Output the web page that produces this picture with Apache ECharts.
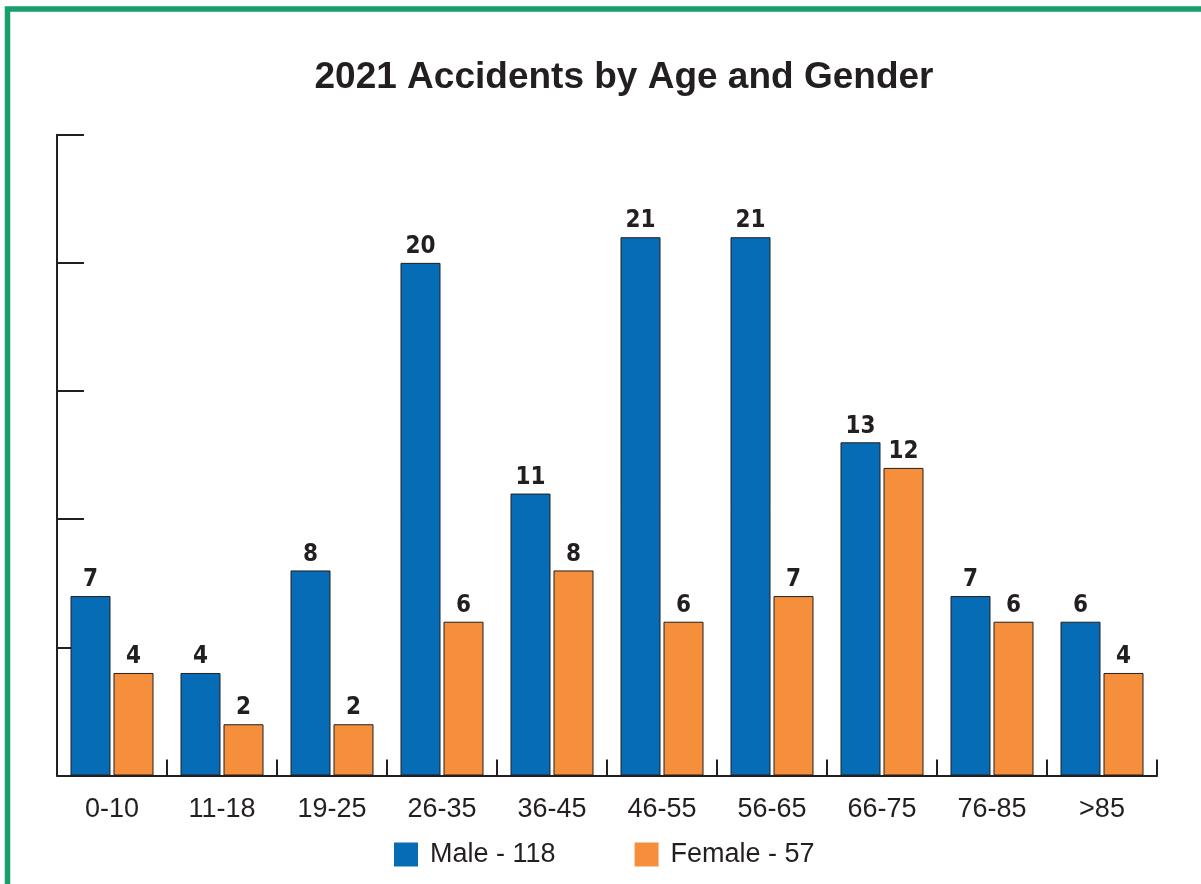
<!DOCTYPE html>
<html>
<head>
<meta charset="utf-8">
<script src="https://cdn.jsdelivr.net/npm/echarts@6/dist/echarts.min.js"></script>
<style>
html,body{margin:0;padding:0;background:#fff;}
#chart{width:1201px;height:884px;}
</style>
</head>
<body>
<div id="chart"></div>
<script>
const categories = ['0-10','11-18','19-25','26-35','36-45','46-55','56-65','66-75','76-85','>85'];
const maleValues = [7,4,8,20,11,21,21,13,7,6];
const femaleValues = [4,2,2,6,8,6,7,12,6,4];
const seriesNames = ['Male - 118','Female - 57'];
const titleText = '2021 Accidents by Age and Gender';

const ink = '#231f20';
const chart = echarts.init(document.getElementById('chart'), null, {renderer:'canvas'});
const labelFont = "'Liberation Sans Narrow','DejaVu Sans Condensed','Liberation Sans',Arial,sans-serif";
const option = {
  animation:false,
  backgroundColor:'#fff',
  title:{
    text:titleText,
    left:619, top:54, textAlign:'center',
    textStyle:{fontFamily:"'Liberation Sans',Arial,sans-serif",fontWeight:'bold',fontSize:37,color:ink}
  },
  legend:{
    left:394, top:841, padding:0,
    itemWidth:24, itemHeight:24, itemGap:79,
    icon:'rect',
    textStyle:{fontFamily:"'Liberation Sans',Arial,sans-serif",fontSize:27,color:ink,padding:[0,0,0,7]},
    itemStyle:{borderWidth:0}
  },
  graphic:[{
    type:'rect', silent:true, z:100,
    shape:{x:7.5,y:9,width:1400,height:1200},
    style:{fill:'none',stroke:'#189e6b',lineWidth:5.5}
  }],
  grid:{left:57,right:44,top:134.7,bottom:108.5,containLabel:false},
  xAxis:{
    type:'category', data:categories,
    axisLine:{lineStyle:{color:ink,width:2}},
    axisTick:{show:true,inside:true,length:16,lineStyle:{color:ink,width:2}},
    axisLabel:{margin:21,fontFamily:"'Liberation Sans',Arial,sans-serif",fontSize:27,color:ink}
  },
  yAxis:{
    type:'value', min:0, max:25, interval:5,
    axisLine:{show:true,lineStyle:{color:ink,width:2}},
    axisTick:{show:true,inside:true,length:27,lineStyle:{color:ink,width:2}},
    axisLabel:{show:false},
    splitLine:{show:false}
  },
  series:[
    {name:seriesNames[0],type:'bar',data:maleValues,barWidth:40,barGap:'7.5%',
     itemStyle:{color:'#066cb6',borderColor:ink,borderWidth:1},
     label:{show:true,position:'top',distance:4,fontFamily:labelFont,fontWeight:'bold',fontSize:24,color:ink}},
    {name:seriesNames[1],type:'bar',data:femaleValues,barWidth:40,
     itemStyle:{color:'#f58f3b',borderColor:ink,borderWidth:1},
     label:{show:true,position:'top',distance:4,fontFamily:labelFont,fontWeight:'bold',fontSize:24,color:ink}}
  ]
};
chart.setOption(option);
</script>
</body>
</html>
